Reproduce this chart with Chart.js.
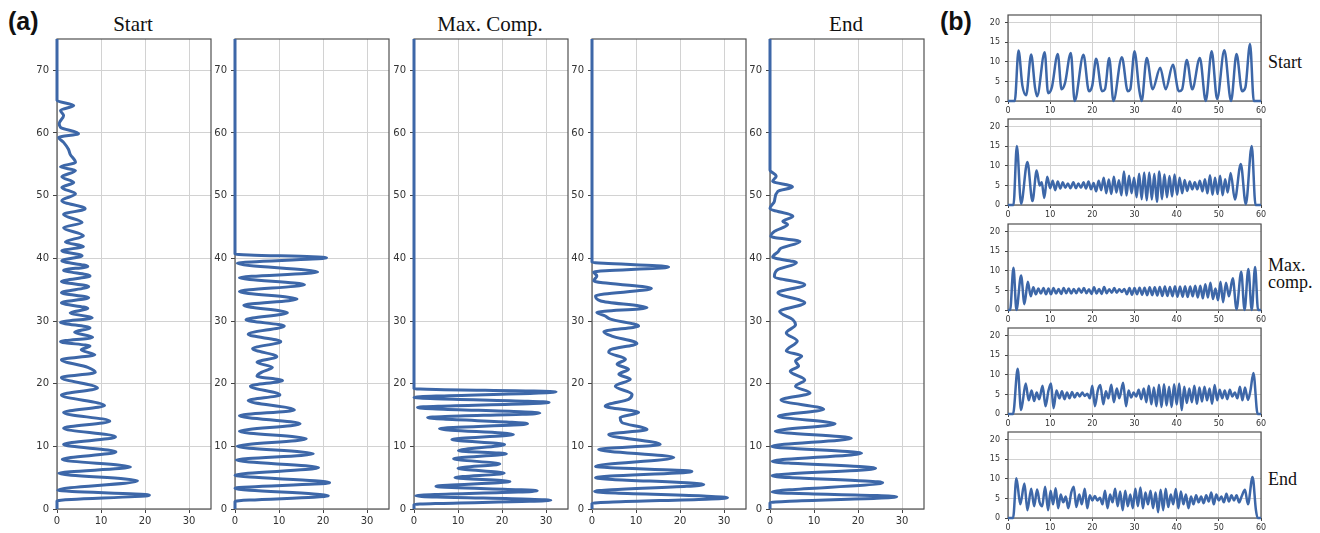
<!DOCTYPE html>
<html>
<head>
<meta charset="utf-8">
<title>profiles</title>
<script src="https://cdn.jsdelivr.net/npm/chart.js@4.4.1/dist/chart.umd.min.js"></script>
<style>
body { margin: 0; background: #fff; }
#page { position: relative; width: 1320px; height: 533px; overflow: hidden; background: #fff; }
#page canvas { position: absolute; }
.tag { position: absolute; font: bold 25px "Liberation Sans", Arial, sans-serif; line-height: 25px; color: #111; }
.ttl { position: absolute; width: 200px; text-align: center; font: 21px "Liberation Serif", "Times New Roman", serif; line-height: 21px; color: #111; }
.side { position: absolute; font: 18px "Liberation Serif", "Times New Roman", serif; line-height: 17px; color: #111; }
</style>
</head>
<body>
<div id="page">
  <div class="tag" style="left:8px;top:9px">(a)</div>
  <div class="tag" style="left:940px;top:9px">(b)</div>
  <div class="ttl" style="left:33px;top:14px">Start</div>
  <div class="ttl" style="left:390px;top:14px">Max. Comp.</div>
  <div class="ttl" style="left:746px;top:14px">End</div>
  <div class="side" style="left:1268px;top:54px">Start</div>
  <div class="side" style="left:1268px;top:257px">Max.<br>comp.</div>
  <div class="side" style="left:1268px;top:471px">End</div>
</div>
<script>
let page = document.getElementById("page")
let blue = "#3d67a8"

// panel (a): pairs are [height, value], height runs up the vertical axis
let startA = [[0,0],[1.3,0],[2.2,21],[3.0,0.2],[4.5,18.3],[5.7,0.4],[6.7,16.7],[7.9,1.2],[9.1,13.4],[10.3,1.5],[11.5,13.3],[12.9,1.5],[14.0,12],[15.4,1.5],[16.5,10.8],[18.2,1],[19.3,9.2],[21.0,1],[21.8,8.7],[22.6,7],[23.8,1],[24.6,8.6],[25.4,5.5],[26.0,7.5],[26.7,0.8],[27.4,8.1],[28.2,4],[28.9,7.5],[29.8,0.8],[30.5,8],[31.3,3],[32.0,7],[32.9,1],[33.7,7.2],[34.5,1],[35.5,7.2],[36.3,1],[37.2,7.5],[38.1,1.5],[38.7,7],[39.6,1.1],[40.4,5.7],[41.2,1.1],[41.9,6],[42.6,1.9],[43.6,6],[44.9,1.5],[45.7,5.7],[47.0,1.5],[47.9,6.4],[49.2,1.1],[50.3,4.2],[51.3,1.1],[52.1,3.8],[53.0,1.1],[54.0,4.2],[54.6,0.8],[55.3,4.2],[56.6,3],[57.4,2.6],[58.5,1.5],[59.3,0.4],[59.9,4.9],[60.9,0.8],[61.5,0.5],[62.8,1.5],[63.6,0.8],[64.4,3.8],[65.2,0],[75,0]]
let secondA = [[0,0],[1.2,0],[2.1,21.2],[3.3,0],[4.2,21.5],[5.4,0],[6.6,19],[7.8,0.3],[8.8,17.8],[10.0,0.5],[11.2,16.2],[12.4,1],[13.6,14.8],[14.9,1],[15.8,13.5],[17.3,3],[18.2,10.2],[19.6,3.5],[20.5,10.8],[21.2,5],[21.8,6],[22.6,8.5],[23.4,5],[24.3,9.5],[25.6,4],[26.7,10.4],[27.9,3],[29.2,11.2],[30.2,2.5],[31.3,11.9],[32.5,2],[33.5,14.1],[34.7,1],[35.8,15.8],[36.9,1],[37.8,18.8],[39.2,0.5],[40.1,20.8],[40.7,0],[75,0]]
let maxCompA = [[0,0],[0.7,0],[1.4,31.1],[2.1,0.4],[2.9,28],[3.6,5],[4.4,21.8],[5.0,9.3],[5.7,20.5],[6.5,10],[7.2,19.5],[8.0,9],[8.8,21],[9.3,10.1],[10.3,20.6],[11.1,8.6],[11.9,22.6],[12.8,5.8],[13.6,25.8],[14.6,3.1],[15.3,28.6],[16.2,0.8],[17.0,30.7],[17.8,0],[18.7,32.3],[19.2,0],[75,0]]
let fourthA = [[0,0],[0.9,0],[1.8,30.8],[2.8,0.6],[3.9,25.4],[5.0,0.8],[6.0,22.7],[6.8,0.8],[8.2,18.6],[9.5,1.5],[10.3,15.5],[11.9,3.8],[12.7,12.5],[13.8,6.8],[14.6,6.4],[15.4,10.6],[16.4,3],[17.5,8.3],[18.3,9.1],[19.6,5.3],[20.7,8.7],[21.5,6.1],[22.3,8.3],[23.1,5.7],[23.9,7.6],[25.0,3.8],[25.5,4.5],[26.4,10.2],[27.6,4.5],[28.3,2.7],[29.2,10.6],[30.3,4.2],[30.8,3],[31.4,1.1],[32.1,12.5],[33.2,2],[34.0,0.8],[35.2,13.5],[36.4,0.4],[37.2,1.1],[37.8,0.4],[38.6,17.4],[39.4,0],[75,0]]
let endA = [[0,0],[1.0,0],[1.95,28.8],[2.7,0.5],[4.2,25.6],[5.3,0.5],[6.5,24],[7.6,0.5],[8.9,20.8],[10.0,0.4],[11.3,18.5],[12.4,1.2],[13.6,14.8],[14.8,1.9],[15.9,12.2],[17.4,2.5],[18.5,9.1],[19.6,5.8],[20.6,7.9],[22.0,4.6],[22.8,6.5],[23.6,5.8],[24.4,7.2],[25.2,3.7],[26.8,6.2],[28.1,3.7],[29.4,5.8],[30.2,5.2],[31.5,2.2],[32.9,7.9],[34.5,1.8],[35.8,7.9],[37.1,1],[38.2,1.8],[39.3,6],[40.2,0.6],[41.1,1.9],[41.6,2.5],[42.7,6.8],[43.5,0.2],[44.3,1],[45.4,4],[45.9,2.9],[46.7,5.2],[48.0,0],[49.1,1],[50.7,1.8],[51.4,5.1],[52.3,0.6],[53.1,1.4],[54.1,0],[75,0]]

// panel (b): pairs are [position, value]
let startB = [[0,0],[1.6,0],[2.5,12.9],[3.4,4],[4.3,1.5],[5.5,11.9],[6.4,3.5],[6.9,1.2],[8.7,12.5],[9.5,2],[10.4,3.5],[11.8,12],[12.7,3],[13.5,4.5],[14.9,12.3],[15.8,0],[17.9,11.8],[19.2,2.5],[20,4],[20.9,10.8],[22.3,2.5],[23,3],[24,11],[25,0],[27,11.2],[28.4,2.5],[29,3],[30,12.7],[31.1,3],[31.7,0],[32.9,11],[34.3,3],[36.1,8.5],[37.4,3],[39.1,9.3],[40.5,2.5],[41.3,3],[42.4,10.5],[43.7,3],[45.5,11],[46.9,0],[48.3,12.7],[49.6,0.5],[51.3,13],[52.9,0],[54.2,12],[55.5,2.5],[56.3,3.5],[57.4,14.6],[58.3,0],[60,0]]
let secondB = [[0,0],[1.3,0],[2.1,15.1],[3.1,0.3],[4.6,11],[5.8,1],[6.8,8.8],[7.5,5],[8,5.8],[8.6,1.8],[9.3,7.2],[10,4.3],[10.6,6.2],[11.2,3.8],[11.8,6],[12.4,4.2],[13,5.8],[13.6,4.4],[14.2,5.5],[14.8,4.3],[15.5,5.8],[16.1,4.3],[16.7,5.5],[17.3,4.4],[17.9,5.8],[18.5,4.2],[19.1,6],[19.7,4],[20.3,5.6],[20.9,3.5],[21.5,6.2],[22.1,3.8],[22.7,7],[23.3,3],[23.9,6.5],[24.5,2.8],[25.1,7.2],[25.7,3.2],[26.3,6.3],[26.9,2.5],[27.5,8.6],[28.1,2.4],[28.7,7.5],[29.3,3],[29.9,7],[30.5,2],[31.1,8],[31.7,1.5],[32.3,8.3],[32.9,1.2],[33.5,8.3],[34.1,1.4],[34.7,8],[35.3,0.8],[35.9,8.6],[36.5,1.5],[37.1,7.8],[37.7,2],[38.3,7.4],[38.9,2.2],[39.5,7.8],[40.1,2.6],[40.7,7],[41.3,3],[41.9,6.4],[42.5,3.6],[43.1,6],[43.7,4],[44.3,5.8],[44.9,4],[45.5,6.2],[46.1,3.5],[46.7,6.6],[47.3,3],[47.9,7.6],[48.5,2.6],[49.1,7],[49.7,2.8],[50.3,7.5],[50.9,2.5],[51.5,6.6],[52.1,3.2],[52.8,8.2],[53.8,1.4],[55.2,10.5],[56.4,0.2],[57.8,15.1],[58.7,0],[60,0]]
let maxCompB = [[0,0],[0.5,0],[1.3,10.8],[2,0],[3.1,8.8],[3.9,1.5],[4.7,7.2],[5.4,3.5],[6,5.8],[6.6,4],[7.2,5.5],[7.8,4.2],[8.4,5.6],[9,4],[9.6,5.5],[10.2,4],[10.8,5.6],[11.4,4.2],[12,5.4],[12.6,4.1],[13.2,5.6],[13.8,4.3],[14.4,5.5],[15,4.2],[15.6,5.4],[16.2,4.3],[16.8,5.5],[17.4,4.4],[18,5.6],[18.6,4.3],[19.2,5.3],[19.8,4.1],[20.4,5.8],[21,4.2],[21.6,5.4],[22.2,4.1],[22.8,5.9],[23.4,4.3],[24,5.3],[24.6,4.4],[25.2,5.6],[25.8,4.4],[26.4,5.3],[27,4.6],[27.6,5.4],[28.2,4],[28.8,5.6],[29.4,3.9],[30,5.6],[30.6,4],[31.2,5.7],[31.8,3.9],[32.4,5.7],[33,3.8],[33.6,5.8],[34.2,3.8],[34.8,5.8],[35.4,3.7],[36,5.9],[36.6,3.6],[37.2,6],[37.8,3.6],[38.4,5.9],[39,3.5],[39.6,6.1],[40.2,3.4],[40.8,6],[41.4,3.4],[42,6.1],[42.6,3.3],[43.2,6],[43.8,3.5],[44.4,6.2],[45,3.2],[45.6,6.2],[46.2,3],[46.8,6.6],[47.4,3.2],[48,7],[48.6,2.8],[49.2,5.5],[49.8,2.5],[50.4,7.2],[51,2],[51.7,7],[52.4,3.5],[53.3,8.1],[54.2,0.2],[55.3,9.8],[56.1,0],[57,10.5],[57.8,0],[58.6,11],[59.3,0],[60,0]]
let fourthB = [[0,0],[1.2,0],[2.3,11.6],[3.1,1],[4.2,7.8],[4.9,3.5],[5.6,6],[6.2,3.3],[6.8,5.5],[7.4,3.8],[8.2,7.2],[8.9,2],[9.6,6],[10.2,7.8],[10.8,1.5],[11.5,6],[12.2,4],[12.8,5.8],[13.4,3.8],[14,5.5],[14.6,4],[15.2,5.6],[15.8,4.2],[16.4,5.4],[17,4.5],[17.6,5.5],[18.2,4.6],[18.8,5.2],[19.4,4],[20,7.2],[20.6,2],[21.3,6],[21.9,7.4],[22.6,2.5],[23.2,5.8],[23.8,4],[24.5,7.5],[25.1,3],[25.8,6.5],[26.4,4],[27.3,8],[28,2],[28.6,6],[29.2,4.2],[29.8,5.5],[30.4,4.5],[31,6.2],[31.6,3.8],[32.2,6.5],[32.8,3],[33.4,7.2],[34,2.5],[34.6,6.8],[35.2,2],[35.8,7.5],[36.4,1.8],[37,7.6],[37.6,2.2],[38.2,7],[38.8,1.8],[39.4,7.6],[40,2.4],[40.6,7.8],[41.2,1],[41.8,7],[42.4,2.8],[43,6.5],[43.6,3],[44.2,7.2],[44.8,2.6],[45.4,6.8],[46,3.2],[46.6,7],[47.2,3.5],[47.8,6.5],[48.4,2.6],[49,7.4],[49.6,3.5],[50.2,6.2],[50.8,4],[51.4,6],[52,3.8],[52.6,6.2],[53.2,4.5],[53.8,5.5],[54.4,4],[55,7],[55.6,3.5],[56.2,6.8],[56.9,3.6],[57.5,6],[58.2,10.5],[59.2,0],[60,0]]
let endB = [[0,0],[1.2,0],[2,10.2],[2.9,3.5],[3.9,8.8],[4.6,2],[5.5,7.5],[6.2,3],[6.9,7.3],[7.5,4],[8.1,3],[8.8,8],[9.5,2],[10.1,7],[10.7,3.5],[11.3,7.6],[11.9,2.5],[12.5,6],[13.1,4],[13.7,5.5],[14.3,2.5],[15,6.5],[15.6,8],[16.2,2.8],[16.9,6],[17.5,3.5],[18.2,7.5],[18.8,2.5],[19.4,5.8],[20,4.5],[20.6,5.6],[21.2,4.5],[21.8,5.2],[22.4,3.5],[23,7],[23.6,2.5],[24.2,6],[24.8,4],[25.4,7.5],[26,3],[26.6,6.8],[27.2,2],[27.8,7],[28.4,3],[29,6],[29.6,2.5],[30.2,7.5],[30.8,3],[31.4,7.8],[32,2.5],[32.6,6.5],[33.2,3.5],[33.8,7],[34.4,2.5],[35,6.5],[35.6,1.5],[36.2,7.2],[36.8,2],[37.4,7.5],[38,2.8],[38.6,6],[39.2,3.5],[39.8,7.4],[40.4,2.5],[41,6.8],[41.6,3.5],[42.2,6],[42.8,2.5],[43.4,5.5],[44,3.5],[44.6,5.8],[45.2,4],[45.8,5.5],[46.4,3.8],[47,5.8],[47.6,4.2],[48.2,6.5],[48.8,3.5],[49.4,6],[50,4.5],[50.6,5.5],[51.2,4],[51.8,6.2],[52.4,4.2],[53,5.8],[53.6,4.5],[54.2,5.8],[54.8,4],[55.4,5.5],[56.2,7.2],[56.9,3.5],[58,10.5],[58.8,2],[59.2,0],[60,0]]

let aTicksX = [0, 10, 20, 30]
let aTicksY = [0, 10, 20, 30, 40, 50, 60, 70]
let bTicksX = [0, 10, 20, 30, 40, 50, 60]
let bTicksY = [0, 5, 10, 15, 20]

// matplotlib style box round the plot area
let frame = {
    id: "frame",
    beforeDatasetsDraw(chart) {
        let a = chart.chartArea
        let ctx = chart.ctx
        ctx.save()
        ctx.strokeStyle = "#505050"
        ctx.lineWidth = 1.2
        ctx.strokeRect(a.left, a.top, a.right - a.left, a.bottom - a.top)
        ctx.restore()
    }
}

function axis(min, max, ticks, size, fontSize, tickLen, pad) {
    return {
        type: "linear", min: min, max: max,
        afterBuildTicks: (s) => { s.ticks = ticks.map(v => ({ value: v })) },
        afterFit: (s) => {
            if (s.isHorizontal()) s.height = size
            else s.width = size
            s.paddingTop = 0; s.paddingBottom = 0; s.paddingLeft = 0; s.paddingRight = 0
        },
        grid: { color: "#d2d2d2", lineWidth: 1, tickLength: tickLen, tickColor: "#444", drawTicks: true },
        border: { display: false },
        ticks: { font: { family: "'DejaVu Sans'", size: fontSize }, color: "#333", padding: pad, autoSkip: false, maxRotation: 0 }
    }
}

function addChart(left, top, w, h, setup) {
    let c = document.createElement("canvas")
    c.width = w
    c.height = h
    c.style.left = left + "px"
    c.style.top = top + "px"
    page.appendChild(c)
    return new Chart(c.getContext("2d"), setup)
}

// panel (a)
let aSeries = [startA, secondA, maxCompA, fourthA, endA]
let aLefts = [57, 235, 414, 592, 770]
for (let i = 0; i < aSeries.length; i++) {
    addChart(aLefts[i] - 40, 29, 204, 504, {
        type: "line",
        data: { datasets: [{
            data: aSeries[i].map(p => ({ x: p[1], y: p[0] })),
            borderColor: blue, borderWidth: 3, pointRadius: 0, cubicInterpolationMode: "monotone", clip: false
        }] },
        options: {
            indexAxis: "y",
            responsive: false, animation: false, events: [],
            layout: { padding: { top: 10, right: 10, left: 0, bottom: 0 } },
            plugins: { legend: { display: false }, tooltip: { enabled: false } },
            scales: {
                x: axis(0, 35, aTicksX, 24, 10, 4, 2),
                y: axis(0, 75, aTicksY, 40, 10, 4, 4)
            }
        },
        plugins: [frame]
    })
}

// panel (b)
let bSeries = [startB, secondB, maxCompB, fourthB, endB]
let bTops = [15, 119, 224, 328, 432]
for (let i = 0; i < bSeries.length; i++) {
    addChart(978, bTops[i] - 6, 293, 108, {
        type: "line",
        data: { datasets: [{
            data: bSeries[i].map(p => ({ x: p[0], y: p[1] })),
            borderColor: blue, borderWidth: 2.5, pointRadius: 0, cubicInterpolationMode: "monotone", clip: false
        }] },
        options: {
            responsive: false, animation: false, events: [],
            layout: { padding: { top: 6, right: 10, left: 0, bottom: 0 } },
            plugins: { legend: { display: false }, tooltip: { enabled: false } },
            scales: {
                x: axis(0, 60, bTicksX, 16, 8, 3, 2),
                y: axis(0, 22, bTicksY, 30, 8, 3, 5)
            }
        },
        plugins: [frame]
    })
}
</script>
</body>
</html>
